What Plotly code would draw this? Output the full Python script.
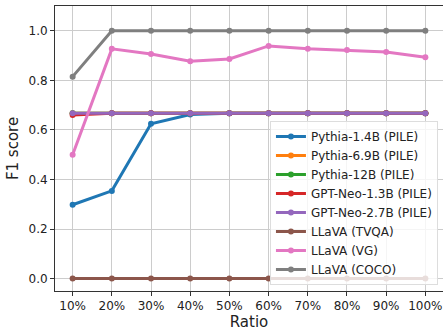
import plotly.graph_objects as go

ratios = ["10%", "20%", "30%", "40%", "50%", "60%", "70%", "80%", "90%", "100%"]

pythia_1_4b = [0.298, 0.354, 0.625, 0.662, 0.667, 0.667, 0.667, 0.667, 0.667, 0.667]
pythia_6_9b = [0.667, 0.667, 0.667, 0.667, 0.667, 0.667, 0.667, 0.667, 0.667, 0.667]
pythia_12b = [0.667, 0.667, 0.667, 0.667, 0.667, 0.667, 0.667, 0.667, 0.667, 0.667]
gpt_neo_1_3b = [0.660, 0.667, 0.667, 0.667, 0.667, 0.667, 0.667, 0.667, 0.667, 0.667]
gpt_neo_2_7b = [0.667, 0.667, 0.667, 0.667, 0.667, 0.667, 0.667, 0.667, 0.667, 0.667]
llava_tvqa = [0.0, 0.0, 0.0, 0.0, 0.0, 0.0, 0.0, 0.0, 0.0, 0.0]
llava_vg = [0.500, 0.927, 0.906, 0.877, 0.886, 0.939, 0.927, 0.922, 0.914, 0.893]
llava_coco = [0.815, 1.0, 1.0, 1.0, 1.0, 1.0, 1.0, 1.0, 1.0, 1.0]

series = [
    ("Pythia-1.4B (PILE)", pythia_1_4b, "#1f77b4"),
    ("Pythia-6.9B (PILE)", pythia_6_9b, "#ff7f0e"),
    ("Pythia-12B (PILE)", pythia_12b, "#2ca02c"),
    ("GPT-Neo-1.3B (PILE)", gpt_neo_1_3b, "#d62728"),
    ("GPT-Neo-2.7B (PILE)", gpt_neo_2_7b, "#9467bd"),
    ("LLaVA (TVQA)", llava_tvqa, "#8c564b"),
    ("LLaVA (VG)", llava_vg, "#e377c2"),
    ("LLaVA (COCO)", llava_coco, "#7f7f7f"),
]

fig = go.Figure()
for name, vals, color in series:
    fig.add_trace(go.Scatter(
        x=ratios, y=vals, name=name, mode="lines+markers",
        line=dict(color=color, width=3),
        marker=dict(color=color, size=6),
    ))

font_family = "DejaVu Sans"
axis_common = dict(
    showline=True, linecolor="#333333", linewidth=1, mirror=True,
    showgrid=True, gridcolor="#cccccc", gridwidth=1,
    ticks="outside", ticklen=4, tickcolor="#333333",
    tickfont=dict(family=font_family, size=12, color="#222222"),
    zeroline=False,
)

fig.update_layout(
    width=443, height=331,
    margin=dict(l=55, r=0, t=6, b=40),
    paper_bgcolor="white", plot_bgcolor="white",
    font=dict(family=font_family, color="#222222"),
    xaxis=dict(axis_common, type="category", range=[-0.45, 9.45],
               title=dict(text="Ratio", font=dict(size=15), standoff=0)),
    yaxis=dict(axis_common, range=[-0.05, 1.1],
               tickvals=[0.0, 0.2, 0.4, 0.6, 0.8, 1.0],
               ticktext=["0.0", "0.2", "0.4", "0.6", "0.8", "1.0"],
               title=dict(text="F1 score", font=dict(size=15), standoff=6)),
    legend=dict(
        x=0.987, y=0.021, xanchor="right", yanchor="bottom",
        bgcolor="rgba(255,255,255,0.8)", bordercolor="#dddddd", borderwidth=1,
        font=dict(family=font_family, size=12, color="#222222"),
        itemwidth=30, tracegroupgap=0,
    ),
    showlegend=True,
)

fig.write_html("out.html")
